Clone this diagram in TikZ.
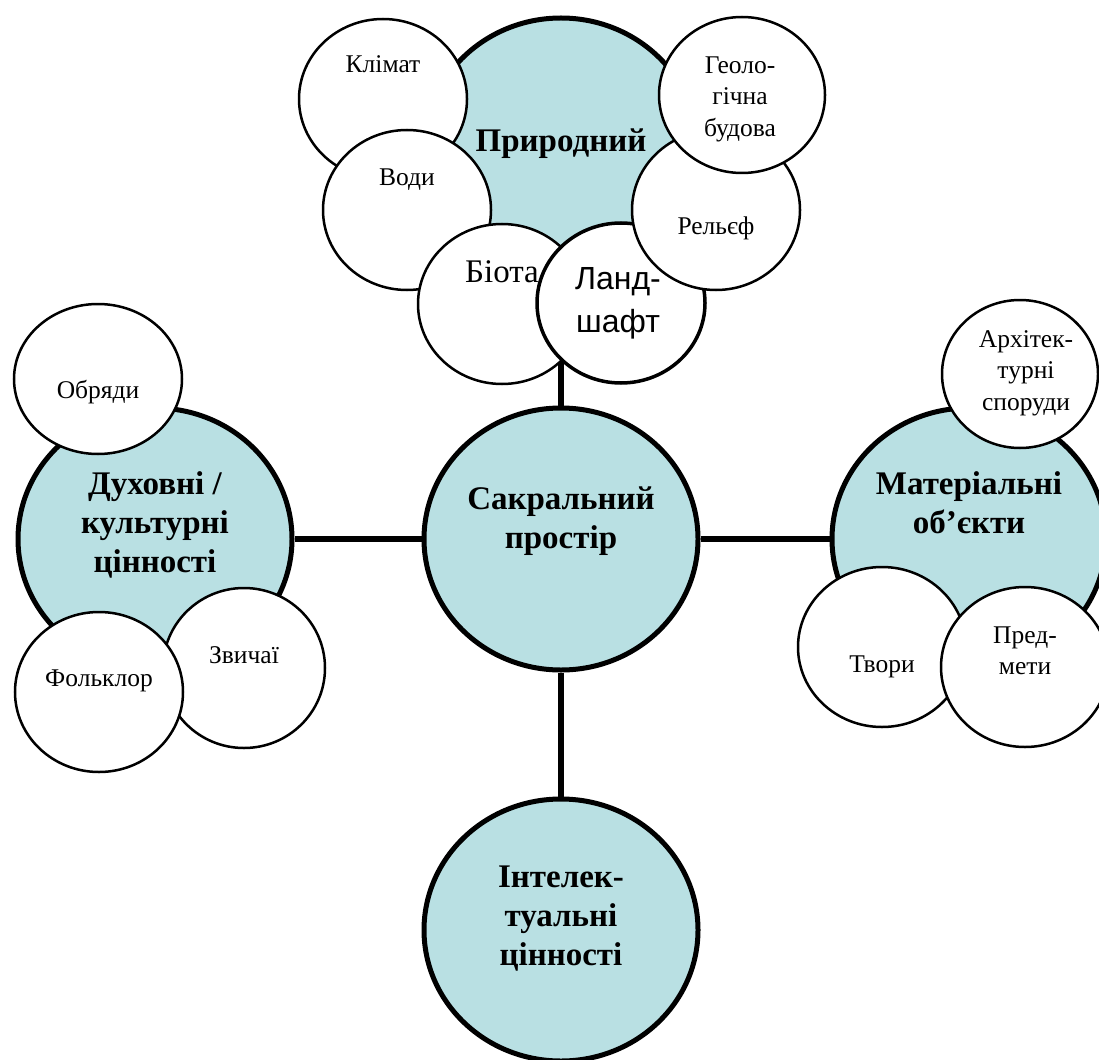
\documentclass[tikz,border=0pt]{standalone}
\usepackage{fontspec}
\setmainfont{Liberation Serif}
\newfontfamily\landfont{Liberation Sans}
\usetikzlibrary{shapes.geometric}
\definecolor{paleteal}{RGB}{185,224,227}

\begin{document}
\begin{tikzpicture}[
    x=1pt, y=-1pt,
    bigcirc/.style={ellipse, draw, line width=5pt, fill=paleteal, minimum width=274pt, minimum height=262pt, inner sep=0pt},
    smallcirc/.style={ellipse, draw, line width=2.5pt, fill=white, minimum width=168pt, minimum height=160pt, inner sep=0pt},
    bigtext/.style={font=\fontsize{33}{39}\selectfont\bfseries, align=center},
    smalltext/.style={font=\fontsize{25.5}{31.5}\selectfont, align=center},
    line/.style={draw, line width=6.5pt}
]
    \useasboundingbox (0,0) rectangle (1099,1059);

    % Main circles
    \node [bigcirc, label={[bigtext, yshift=5pt]center:Природний}] (pryrod) at (561,149) {};
    \node [bigcirc, label={[bigtext, yshift=18pt]center:Сакральний\\простір}] (sacral) at (561,539) {};
    \node [bigcirc, label={[bigtext, yshift=14pt]center:Духовні /\\культурні\\цінності}] (dukhov) at (155,539) {};
    \node [bigcirc, label={[bigtext, yshift=36pt]center:Матеріальні\\об’єкти}] (mater) at (969,539) {};
    \node [bigcirc, label={[bigtext, yshift=11pt]center:Інтелек-\\туальні\\цінності}] (intel) at (561,930) {};

    % Connecting lines
    \path [line] (sacral) -- (pryrod);
    \path [line] (sacral) -- (dukhov);
    \path [line] (sacral) -- (mater);
    \path [line] (sacral) -- (intel);

    % Natural components
    \node [smallcirc, label={[smalltext, yshift=35pt]center:Клімат}] (klimat) at (383,99) {};
    \node [smallcirc, label={[smalltext, yshift=30pt]center:Води}] (vody) at (407,210) {};
    \node [smallcirc, label={[smalltext, font=\fontsize{33}{39}\selectfont, yshift=32pt]center:Біота}] (biota) at (502,304) {};
    \node [smallcirc, line width=3.5pt, label={[font=\fontsize{32}{43}\selectfont\landfont, align=center, xshift=-3pt, yshift=0pt]center:Ланд-\\шафт}] (landsh) at (621,303) {};
    \node [smallcirc, label={[smalltext, yshift=-18pt]center:Рельєф}] (relief) at (716,210) {};
    \node [smallcirc, minimum width=166pt, minimum height=156pt, label={[smalltext, xshift=-2pt, yshift=-4pt]center:Геоло-\\гічна\\будова}] (geolog) at (742,95) {};

    % Spiritual components
    \node [smallcirc, minimum height=150pt, label={[smalltext, yshift=-13pt]center:Обряди}] (obriady) at (98,379) {};
    \node [smallcirc, minimum width=162pt, label={[smalltext, yshift=13pt]center:Звичаї}] (zvychai) at (244,668) {};
    \node [smallcirc, label={[smalltext, yshift=11pt]center:Фольклор}] (folklor) at (99,692) {};

    % Material components
    \node [smallcirc, minimum width=156pt, minimum height=148pt, label={[smalltext, xshift=6pt, yshift=1pt]center:Архітек-\\турні\\споруди}] (arkhit) at (1020,374) {};
    \node [smallcirc, label={[smalltext, yshift=-20pt]center:Твори}] (tvory) at (882,647) {};
    \node [smallcirc, label={[smalltext, yshift=16pt]center:Пред-\\мети}] (predmet) at (1025,667) {};
\end{tikzpicture}
\end{document}
